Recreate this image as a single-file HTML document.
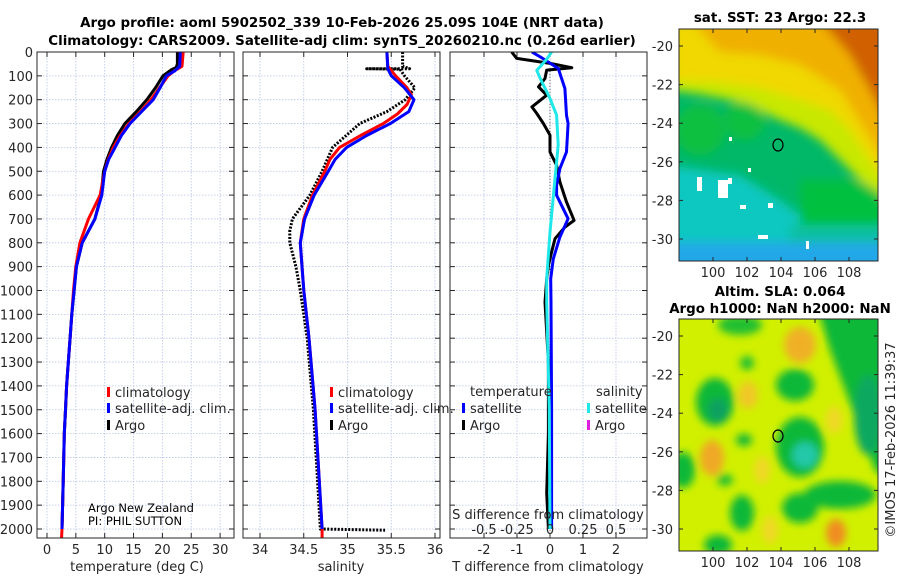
<!DOCTYPE html>
<html><head><meta charset="utf-8"><style>
body{margin:0;background:#fff;}
svg{display:block;font-family:"DejaVu Sans","Liberation Sans",sans-serif;}
.t{font-size:13px;fill:#262626;}
.b{font-weight:bold;font-size:13.4px;fill:#000;}
</style></head><body>
<svg id="fig" width="900" height="580" viewBox="0 0 900 580">
<defs>
<clipPath id="c1"><rect x="37" y="52" width="197" height="486"/></clipPath>
<clipPath id="c2"><rect x="243" y="52" width="197" height="486"/></clipPath>
<clipPath id="c3"><rect x="450" y="52" width="197" height="486"/></clipPath>
<clipPath id="cm1"><rect x="679" y="29" width="199" height="232"/></clipPath>
<clipPath id="cm2"><rect x="679" y="319" width="199" height="232"/></clipPath>
<filter id="bl" x="-50%" y="-50%" width="200%" height="200%"><feGaussianBlur stdDeviation="5"/></filter>
<filter id="bl2" x="-50%" y="-50%" width="200%" height="200%"><feGaussianBlur stdDeviation="4"/></filter>
</defs>
<text class="b" x="342" y="27" text-anchor="middle">Argo profile: aoml 5902502_339 10-Feb-2026 25.09S 104E (NRT data)</text>
<text class="b" x="342" y="45" text-anchor="middle">Climatology: CARS2009. Satellite-adj clim: synTS_20260210.nc (0.26d earlier)</text>
<g id="g1"></g>
<g id="g2"></g>
<g id="g3"></g>

<!-- SST map -->
<g>
<text class="b" x="780" y="22" text-anchor="middle">sat. SST: 23 Argo: 22.3</text>
<g clip-path="url(#cm1)">
<rect x="679" y="29" width="199" height="232" fill="#00b868"/>
<g filter="url(#bl)">
<polygon points="670,165 740,175 780,200 800,215 800,270 670,270" fill="#10c8c0"/>
<rect x="790" y="225" width="100" height="45" fill="#10c0a0"/>
<rect x="670" y="242" width="220" height="30" fill="#20a8e8"/>
<rect x="800" y="180" width="90" height="45" fill="#00c040"/>
<ellipse cx="700" cy="130" rx="25" ry="25" fill="#10c040"/>
<ellipse cx="745" cy="120" rx="20" ry="20" fill="#10c040"/>
<polygon points="670,20 890,20 890,200 860,180 840,160 820,140 800,128 775,118 750,104 720,98 700,94 670,90" fill="#c8e800"/>
<polygon points="670,20 890,20 890,185 870,160 850,130 830,110 800,100 760,88 720,82 670,80" fill="#f0d800"/>
<polygon points="690,20 890,20 890,170 865,130 840,90 800,65 760,55 720,52" fill="#f0b000"/>
<polygon points="820,20 890,20 890,130 870,90 850,55" fill="#d06000"/>
</g>
<g fill="#fff">
<rect x="697" y="177" width="5" height="14"/><rect x="718" y="180" width="10" height="18"/><rect x="728" y="178" width="4" height="6"/><rect x="748" y="168" width="3" height="4"/><rect x="740" y="205" width="6" height="4"/><rect x="768" y="203" width="5" height="5"/><rect x="758" y="235" width="10" height="4"/><rect x="806" y="241" width="3" height="8"/><rect x="729" y="137" width="3" height="4"/>
</g>
</g>
<rect x="679" y="29" width="199" height="232" fill="none" stroke="#262626" stroke-width="1"/>
<ellipse cx="778" cy="145" rx="5" ry="6" fill="none" stroke="#000" stroke-width="1.2"/>
<g id="m1ax"></g>
</g>

<!-- SLA map -->
<g>
<text class="b" x="780" y="296" text-anchor="middle">Altim. SLA: 0.064</text>
<text class="b" x="780" y="313" text-anchor="middle">Argo h1000: NaN h2000: NaN</text>
<g clip-path="url(#cm2)">
<rect x="679" y="319" width="199" height="232" fill="#d0f000"/>
<g filter="url(#bl2)">
<ellipse cx="740" cy="325" rx="22" ry="10" fill="#20c030"/>
<ellipse cx="747" cy="363" rx="7" ry="7" fill="#20c030"/>
<polygon points="818,310 890,310 890,480 875,470 860,430 845,390 830,350" fill="#10b838"/>
<ellipse cx="868" cy="415" rx="14" ry="40" fill="#10a860"/>
<ellipse cx="715" cy="402" rx="19" ry="24" fill="#10b838"/>
<ellipse cx="718" cy="410" rx="10" ry="12" fill="#10a060"/>
<ellipse cx="795" cy="385" rx="19" ry="16" fill="#10b838"/>
<ellipse cx="800" cy="447" rx="24" ry="30" fill="#10b838"/>
<ellipse cx="805" cy="455" rx="13" ry="13" fill="#20c8a8"/>
<ellipse cx="683" cy="470" rx="12" ry="18" fill="#10b838"/>
<ellipse cx="742" cy="513" rx="12" ry="18" fill="#10b838"/>
<ellipse cx="800" cy="508" rx="18" ry="15" fill="#10b838"/>
<ellipse cx="840" cy="495" rx="36" ry="14" fill="#10b838"/>
<ellipse cx="718" cy="545" rx="14" ry="10" fill="#10b838"/>
<ellipse cx="744" cy="440" rx="8" ry="6" fill="#10b838"/>
<ellipse cx="725" cy="480" rx="8" ry="6" fill="#20c030"/>
<ellipse cx="800" cy="345" rx="16" ry="18" fill="#f0b028"/>
<ellipse cx="712" cy="458" rx="12" ry="18" fill="#f0a828"/>
<ellipse cx="748" cy="395" rx="10" ry="14" fill="#f0c828"/>
<ellipse cx="836" cy="533" rx="10" ry="14" fill="#f08c20"/>
<ellipse cx="834" cy="420" rx="8" ry="14" fill="#f0d828"/>
<ellipse cx="762" cy="470" rx="8" ry="14" fill="#f0d828"/>
<ellipse cx="770" cy="530" rx="8" ry="14" fill="#f0d828"/>
</g>
</g>
<rect x="679" y="319" width="199" height="232" fill="none" stroke="#262626" stroke-width="1"/>
<ellipse cx="778" cy="436" rx="5" ry="6" fill="none" stroke="#000" stroke-width="1.2"/>
<g id="m2ax"></g>
</g>
<text class="t" transform="translate(895,440) rotate(-90)" text-anchor="middle">©IMOS 17-Feb-2026 11:39:37</text>
</svg>
<script>
// ---------- data ----------
const depthTicks=[0,100,200,300,400,500,600,700,800,900,1000,1100,1200,1300,1400,1500,1600,1700,1800,1900,2000];
const tempTicks=[0,5,10,15,20,25,30];
const salTicks=[34,34.5,35,35.5,36];
const tdiffTicks=[-2,-1,0,1,2];
const sdiffTicks=[-0.5,-0.25,0,0.25,0.5];
const sdiffLabels=["-0.5","-0.25","0","0.25","0.5"];

const argoTDepth=[0,50,65,75,100,150,200,250,300,350,400,450,500,600,700,800,900,1000,1100,1200,1300,1400,1500,1600,1800,2000];
const argoT=[22.6,22.6,22.4,21.5,20.1,18.8,17.3,15.5,13.5,12.2,11.2,10.4,9.8,9.4,8.3,6.1,5.1,4.7,4.3,4.0,3.7,3.4,3.2,3.0,2.8,2.6];
const climTDepth=[0,60,80,100,150,200,250,300,350,400,450,500,600,700,800,900,1000,1100,1200,1300,1400,1500,1600,1800,2000,2050];
const climT=[23.6,23.4,22,21,19.5,18,16.2,14.2,12.7,11.5,10.6,10,9.2,7.2,5.7,5.0,4.6,4.3,4.0,3.7,3.4,3.2,3.0,2.8,2.6,2.5];
const satTDepth=[0,60,80,100,150,200,250,300,350,400,450,500,600,700,800,900,1000,1100,1200,1300,1400,1500,1600,1800,2000];
const satT=[23.1,23.0,22.1,20.7,19.6,18.4,16.4,14.4,12.9,11.8,10.7,10.0,9.5,8.3,6.1,5.1,4.7,4.3,4.0,3.7,3.4,3.2,3.0,2.8,2.6];

const argoSDepth=[0,60,70,70,72,100,150,200,250,300,400,500,600,700,750,800,900,1000,1200,1500,2000,2005];
const argoS=[35.63,35.63,35.71,35.22,35.6,35.65,35.77,35.66,35.45,35.14,34.83,34.71,34.57,34.37,34.34,34.34,34.41,34.46,34.54,34.61,34.69,35.43];
const climSDepth=[0,60,100,150,180,220,260,300,350,400,450,500,600,700,800,900,1000,1200,1500,2000,2050];
const climS=[35.45,35.46,35.55,35.68,35.73,35.68,35.57,35.41,35.15,34.91,34.8,34.74,34.6,34.5,34.46,34.48,34.5,34.56,34.63,34.71,34.71];
const satSDepth=[0,70,100,150,200,250,300,350,400,450,500,600,700,800,900,1000,1200,1500,2000];
const satS=[35.45,35.46,35.5,35.65,35.76,35.7,35.49,35.22,34.99,34.86,34.78,34.62,34.51,34.46,34.48,34.5,34.56,34.63,34.71];

const dTArgoDepth=[0,27,48,66,76,111,146,181,230,258,300,349,419,475,545,629,706,734,783,839,895,951,1049,1300,1600,1850,2000];
const dTArgo=[-1.16,-1.01,0,0.66,-0.1,-0.15,-0.35,-0.1,-0.55,-0.4,-0.2,0,0,0.2,0.3,0.5,0.73,0.45,0.15,0.05,-0.05,-0.1,-0.15,-0.05,-0.05,-0.1,-0.05];
const dTSatDepth=[0,20,69,153,265,300,419,489,559,601,699,776,867,951,1049,1500,2000];
const dTSat=[-0.55,-0.3,0.25,0.45,0.5,0.55,0.5,0.3,0.2,0.2,0.55,0.3,0.1,0.02,0.03,0.05,0.05];
const dSSatDepth=[0,30,77,110,195,265,391,531,755,951,1049,1500,2000];
const dSSat=[0.012,-0.025,-0.1,-0.075,0,0.05,0.062,0.038,0,-0.025,-0.025,-0.005,0];

// ---------- helpers ----------
const NS='http://www.w3.org/2000/svg';
function mk(parent,tag,attrs,text){const e=document.createElementNS(NS,tag);for(const k in attrs)e.setAttribute(k,attrs[k]);if(text!==undefined)e.textContent=text;parent.appendChild(e);return e;}
const Y0=52,Y1=538;
const yD=d=>52+d*0.2385;
function lin(v0,p0,v1,p1){return v=>p0+(v-v0)*(p1-p0)/(v1-v0);}
const xT=lin(0,47,30,220.1);
const xS=lin(34,260,36,435);
const xdT=lin(0,550,1,583);
const xdS=lin(0,550,0.5,616);

function pathD(xs,ds,fx){return xs.map((v,i)=>(i?'L':'M')+fx(v).toFixed(1)+','+yD(ds[i]).toFixed(1)).join(' ');}

function frame(g,x0,clip,xticks,fx,yLabels){
  const x1=x0+197;
  const grid=mk(g,'g',{'clip-path':'url(#'+clip+')'});
  
  
  depthTicks.forEach(d=>{mk(grid,'line',{x1:x0,x2:x1,y1:yD(d),y2:yD(d),stroke:'#b8c4e8','stroke-width':0.8,'stroke-dasharray':'1.5 1.5'});
    mk(g,'line',{x1:x0,x2:x0+5,y1:yD(d),y2:yD(d),stroke:'#262626'});mk(g,'line',{x1:x1-5,x2:x1,y1:yD(d),y2:yD(d),stroke:'#262626'});
    if(yLabels){const t=mk(g,'text',{class:'t',x:33,y:yD(d)+5,'text-anchor':'end'},String(d));
      
      }
  });
  xticks.forEach(v=>{const x=fx(v);mk(grid,'line',{x1:x,x2:x,y1:Y0,y2:Y1,stroke:'#b8c4e8','stroke-width':0.8,'stroke-dasharray':'1.5 1.5'});
    mk(g,'line',{x1:x,x2:x,y1:Y1-5,y2:Y1,stroke:'#262626'});mk(g,'line',{x1:x,x2:x,y1:Y0,y2:Y0+5,stroke:'#262626'});
    const t=mk(g,'text',{class:'t',x:x,y:554,'text-anchor':'middle'},String(v));
    
    
  });
  return grid;
}
function series(g,clip,xs,ds,fx,color,w,name,dash){
  const p=mk(g,'path',{d:pathD(xs,ds,fx),fill:'none',stroke:color,'stroke-width':w,'stroke-linejoin':'round','clip-path':'url(#'+clip+')'});
  if(dash)p.setAttribute('stroke-dasharray',dash);
  
  
}
function legend(g,x,y,color,label){
  mk(g,'rect',{x:x,y:y-10,width:3,height:10,fill:color});
  const t=mk(g,'text',{class:'t',x:x+8,y:y},label);
  
  
}
function box(g,x0){mk(g,'rect',{x:x0,y:Y0,width:197,height:Y1-Y0,fill:'none',stroke:'#262626','stroke-width':1});}

// panel 1
const g1=document.getElementById('g1');
frame(g1,37,'c1',tempTicks,xT,true);
series(g1,'c1',argoT,argoTDepth,xT,'#000',3,'argo-temperature-line');
series(g1,'c1',climT,climTDepth,xT,'#f00',3,'climatology-temperature-line');
series(g1,'c1',satT,satTDepth,xT,'#00f',3,'satellite-temperature-line');
box(g1,37);
legend(g1,107,397,'#f00','climatology');legend(g1,107,413,'#00f','satellite-adj. clim.');legend(g1,107,430,'#000','Argo');
mk(g1,'text',{x:88,y:512,'font-size':'11.5px',fill:'#000'},'Argo New Zealand');
mk(g1,'text',{x:88,y:525,'font-size':'11.5px',fill:'#000'},'PI: PHIL SUTTON');
mk(g1,'text',{class:'t',x:137,y:571,'text-anchor':'middle'},'temperature (deg C)');

// panel 2
const g2=document.getElementById('g2');
frame(g2,243,'c2',salTicks,xS,false);
series(g2,'c2',argoS,argoSDepth,xS,'#000',3,'argo-salinity-line','2 1.5');
series(g2,'c2',climS,climSDepth,xS,'#f00',3,'climatology-salinity-line');
series(g2,'c2',satS,satSDepth,xS,'#00f',3,'satellite-salinity-line');
box(g2,243);
legend(g2,330,397,'#f00','climatology');legend(g2,330,413,'#00f','satellite-adj. clim.');legend(g2,330,430,'#000','Argo');
mk(g2,'text',{class:'t',x:341,y:571,'text-anchor':'middle'},'salinity');

// panel 3
const g3=document.getElementById('g3');
frame(g3,450,'c3',tdiffTicks,xdT,false);
mk(g3,'line',{x1:550,x2:550,y1:yD(80),y2:Y1,stroke:'#555','stroke-width':1,'stroke-dasharray':'1 2'});
series(g3,'c3',dTArgo,dTArgoDepth,xdT,'#000',3,'argo-temperature-difference-line');
series(g3,'c3',dTSat,dTSatDepth,xdT,'#00f',3,'satellite-temperature-difference-line');
series(g3,'c3',dSSat,dSSatDepth,xdS,'#20e8e8',3,'satellite-salinity-difference-line');
box(g3,450);
mk(g3,'text',{class:'t',x:470,y:396},'temperature');
mk(g3,'text',{class:'t',x:596,y:396},'salinity');
legend(g3,462,413,'#00f','satellite');legend(g3,462,430,'#000','Argo');
legend(g3,587,413,'#20e8e8','satellite');legend(g3,587,430,'#e020e0','Argo');
mk(g3,'text',{class:'t',x:548,y:519,'text-anchor':'middle'},'S difference from climatology');
sdiffTicks.forEach((v,i)=>{const t=mk(g3,'text',{class:'t',x:xdS(v),y:534,'text-anchor':'middle'},sdiffLabels[i]);
  
  });
mk(g3,'text',{class:'t',x:548,y:571,'text-anchor':'middle'},'T difference from climatology');

// map axes
const latTicks=[-20,-22,-24,-26,-28,-30];
const lonTicks=[100,102,104,106,108];
function mapAxes(id,top,bot,y20){
  const g=document.getElementById(id);
  const fy=lin(-20,y20,-30,y20+193);
  const fx=lin(100,713,108,849);
  latTicks.forEach(v=>{const y=fy(v);mk(g,'line',{x1:679,x2:683,y1:y,y2:y,stroke:'#262626'});mk(g,'line',{x1:874,x2:878,y1:y,y2:y,stroke:'#262626'});
    const t=mk(g,'text',{class:'t',x:673,y:y+5,'text-anchor':'end'},String(v));
    
    });
  lonTicks.forEach(v=>{const x=fx(v);mk(g,'line',{x1:x,x2:x,y1:bot-4,y2:bot,stroke:'#262626'});mk(g,'line',{x1:x,x2:x,y1:top,y2:top+4,stroke:'#262626'});
    const t=mk(g,'text',{class:'t',x:x,y:bot+16,'text-anchor':'middle'},String(v));
    
    });
}
mapAxes('m1ax',29,261,46);
mapAxes('m2ax',319,551,336);
</script>
</body></html>
